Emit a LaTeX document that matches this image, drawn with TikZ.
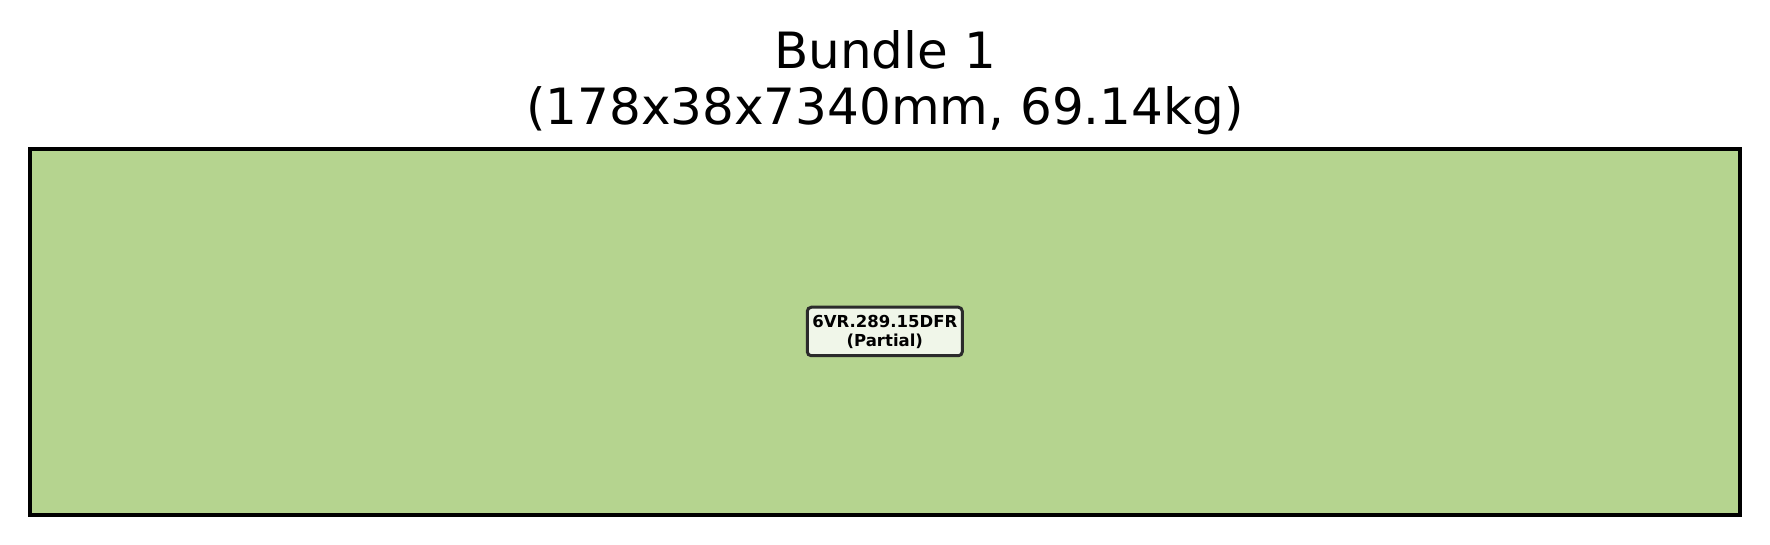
\documentclass[tikz,border=0pt]{standalone}
\usepackage{fontspec}
\setmainfont{DejaVu Sans}
\usepackage{xcolor}
\usepackage{tikz}
\definecolor{bundlegreen}{RGB}{181,212,143}
\definecolor{tagfill}{RGB}{240,246,233}
\definecolor{tagline}{RGB}{43,43,43}

\begin{document}
\begin{tikzpicture}[x=1pt,y=1pt,
    piecetag/.style={draw=tagline,fill=tagfill,line width=3pt,rounded corners=4pt,
        minimum width=155pt,minimum height=48.5pt,inner sep=0pt,align=center,
        font=\fontsize{16.5}{19}\selectfont\bfseries}]
                \useasboundingbox (0,0) rectangle (1770,545);
                \node[align=center,inner sep=0pt,anchor=base,font=\fontsize{50}{56}\selectfont] (title) at (885,420)
                    {Bundle 1\\(178x38x7340mm, 69.14kg)};
                \draw[line width=4pt,fill=bundlegreen] (30.3,30.3) rectangle (1739.7,395.7);
                \node[piecetag] (piece) at (884.8,213.5) {6VR.289.15DFR\\(Partial)};
            \end{tikzpicture}
\end{document}
